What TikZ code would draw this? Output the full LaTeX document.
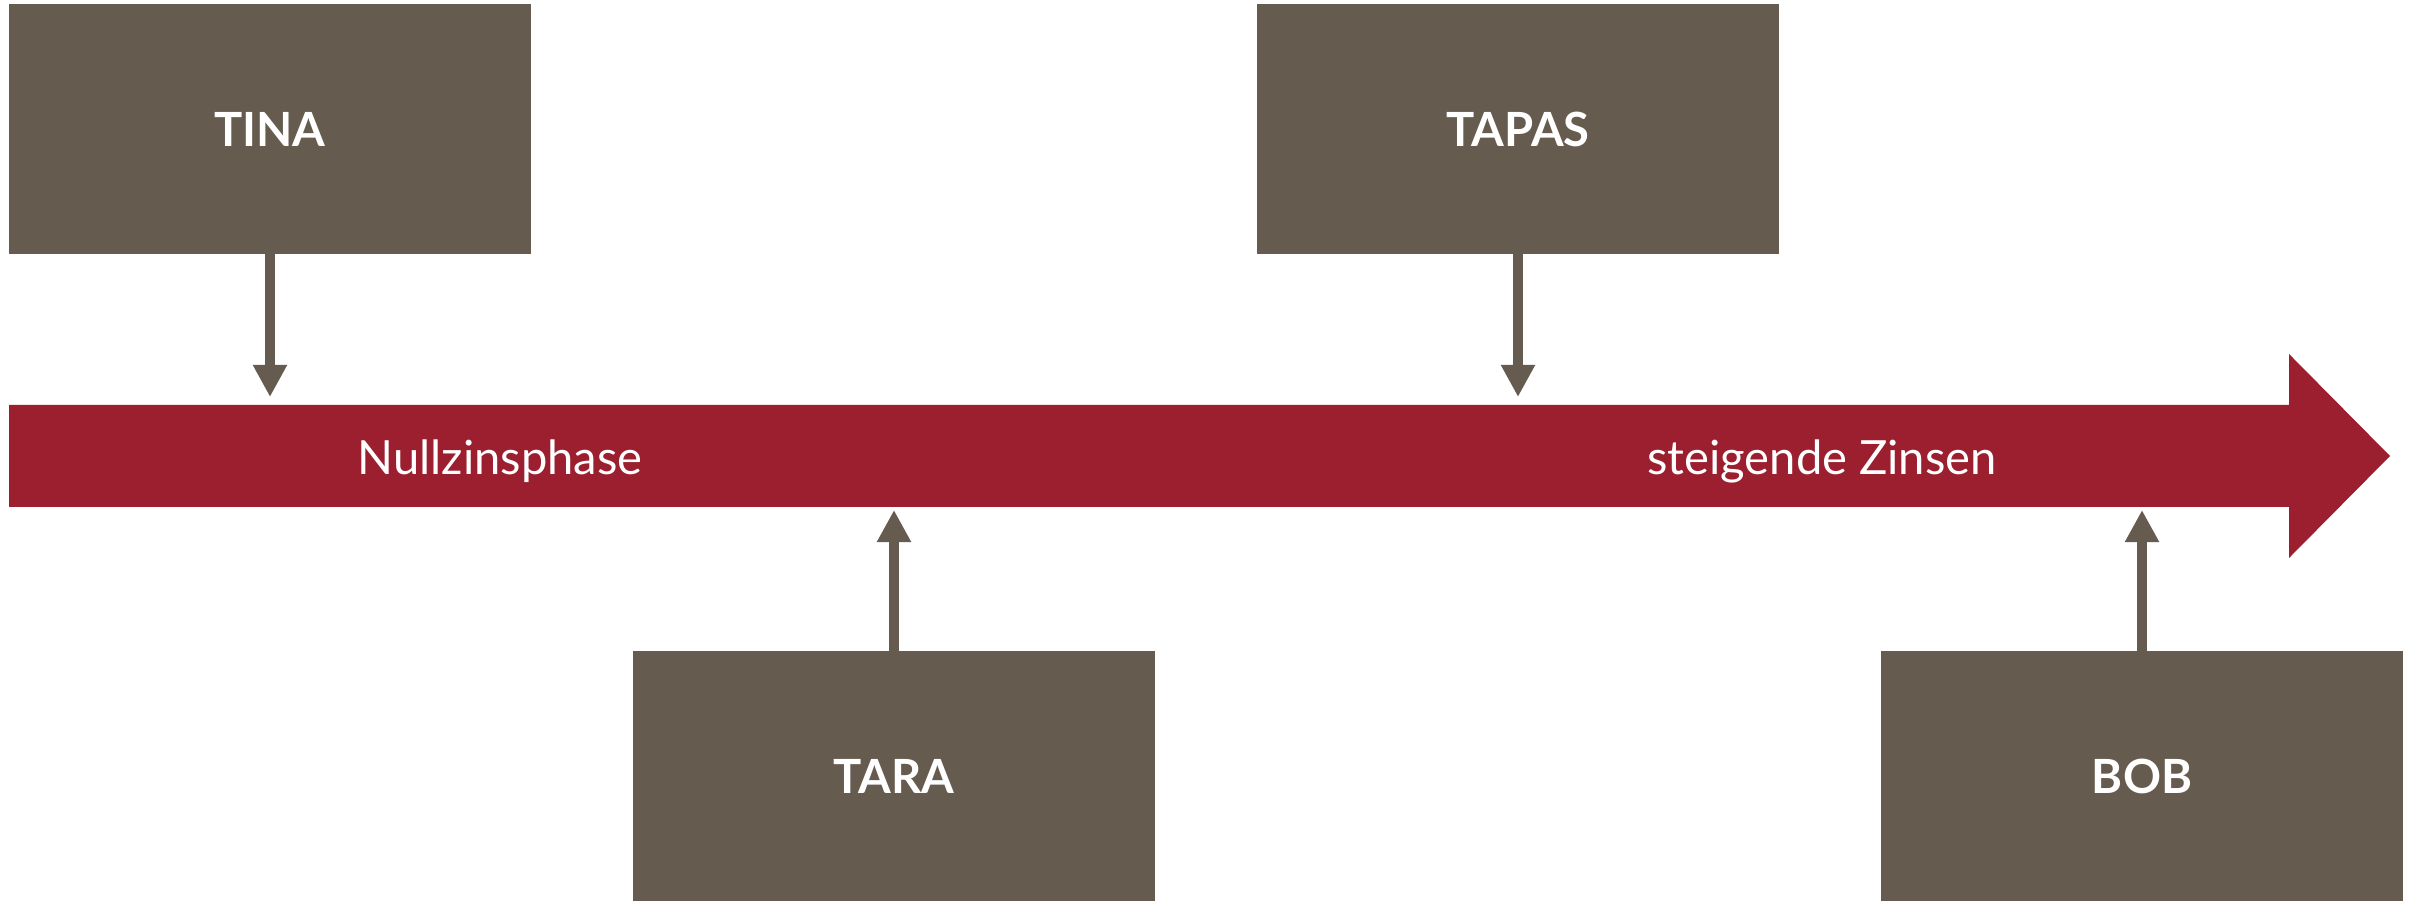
\documentclass[tikz,border=0pt]{standalone}
\usepackage{fontspec}
\setmainfont{Lato}
\usetikzlibrary{arrows.meta}
\definecolor{boxbrown}{RGB}{102,91,79}
\definecolor{barred}{RGB}{155,31,47}
\begin{document}
\begin{tikzpicture}[x=0.01cm,y=-0.01cm,
  person/.style={fill=boxbrown,text=white,minimum width=5.22cm,minimum height=2.49cm,inner sep=0pt,font=\fontsize{13.4}{16}\selectfont\bfseries},
  phase/.style={text=white,inner sep=0pt,font=\fontsize{13.4}{16}\selectfont},
  conn/.style={draw=boxbrown,line width=0.1cm,-{Triangle[width=0.32cm,length=0.32cm]}}]
\useasboundingbox (0,0) rectangle (2415,901);
% main arrow
\fill[barred] (9,405) -- (2289,405) -- (2289,354) -- (2390,456) -- (2289,558) -- (2289,507) -- (9,507) -- cycle;
\node[phase] (null) at (500,461) {Nullzinsphase};
\node[phase] (steig) at (1822,461) {steigende Zinsen};
% boxes
\node[person] (tina) at (270,129) {TINA};
\node[person] (tapas) at (1518,129) {TAPAS};
\node[person] (tara) at (894,776) {TARA};
\node[person] (bob) at (2142,776) {BOB};
% connector ends
\coordinate (ctina) at (270,397);
\coordinate (ctapas) at (1518,397);
\coordinate (ctara) at (894,510);
\coordinate (cbob) at (2142,510);
\draw[conn] (tina.south) -- (ctina);
\draw[conn] (tapas.south) -- (ctapas);
\draw[conn] (tara.north) -- (ctara);
\draw[conn] (bob.north) -- (cbob);
\end{tikzpicture}
\end{document}
